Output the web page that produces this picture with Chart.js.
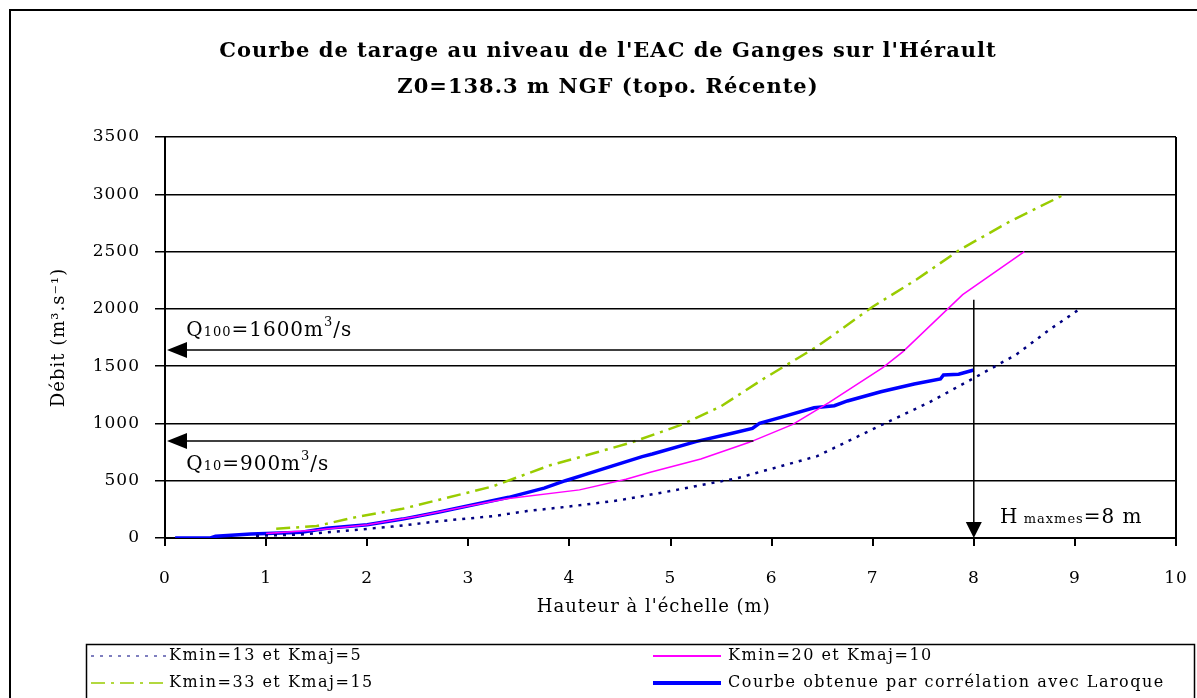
<!DOCTYPE html>
<html lang="fr">
<head>
<meta charset="utf-8">
<title>Courbe de tarage - Ganges</title>
<script src="https://cdn.jsdelivr.net/npm/chart.js@4.4.1/dist/chart.umd.min.js"></script>
<style>
  html, body { margin: 0; padding: 0; background: #fff; }
  #wrap { width: 1197px; height: 698px; position: relative; }
</style>
</head>
<body>
<div id="wrap"><canvas id="tarage-chart"></canvas></div>
<script>
// valeurs (hauteur en m, debit en m3/s)
const hauteurK13 = [0.9, 1.33, 1.76, 2.25, 2.75, 3.24, 3.58, 4.0, 4.5, 5.0, 5.66, 6.45, 7.1, 7.56, 8.03, 8.42, 8.75, 9.05];
const debitK13 = [20, 30, 60, 100, 150, 190, 235, 275, 330, 410, 522, 714, 992, 1184, 1410, 1601, 1819, 2000];

const hauteurK20 = [1.0, 1.5, 2.0, 2.5, 3.0, 3.38, 4.1, 4.56, 4.8, 5.3, 5.78, 6.21, 6.57, 7.1, 7.3, 7.89, 8.5];
const debitK20 = [40, 70, 115, 190, 280, 343, 420, 512, 574, 690, 835, 992, 1184, 1488, 1627, 2124, 2500];

const hauteurK33 = [1.1, 1.5, 1.93, 2.35, 3.24, 3.81, 4.1, 4.6, 5.12, 5.5, 5.91, 6.45, 7.0, 7.43, 7.86, 8.35, 8.9];
const debitK33 = [80, 105, 190, 255, 450, 635, 705, 830, 992, 1150, 1384, 1671, 2019, 2254, 2515, 2759, 3000];

const hauteurLaroque = [0.1, 0.45, 0.5, 0.85, 1.0, 1.35, 1.6, 2.0, 2.35, 2.7, 3.05, 3.4, 3.75, 3.96, 4.16, 4.42, 4.72, 4.82, 5.25, 5.61, 5.81, 5.88, 6.09, 6.42, 6.62, 6.75, 7.08, 7.41, 7.67, 7.7, 7.85, 8.0];
const debitLaroque = [0, 0, 15, 35, 40, 50, 85, 115, 165, 225, 290, 355, 435, 500, 555, 628, 710, 733, 841, 914, 957, 1001, 1053, 1137, 1155, 1196, 1277, 1344, 1388, 1423, 1430, 1466];

const serieLabels = ['Kmin=13 et Kmaj=5', 'Kmin=20 et Kmaj=10', 'Kmin=33 et Kmaj=15', 'Courbe obtenue par corrélation avec Laroque'];
const xTicks = [0, 1, 2, 3, 4, 5, 6, 7, 8, 9, 10];
const yTicks = [0, 500, 1000, 1500, 2000, 2500, 3000, 3500];

// fleches de l'annotation (en unites des axes)
const q100Arrow = { debit: 1640, hauteurFin: 7.32 };
const q10Arrow = { debit: 847, hauteurFin: 5.82 };
const hmaxArrow = { hauteur: 8, debitHaut: 2080 };

const SERIF = "'DejaVu Serif', serif";

function toPoints(xs, ys) {
  return xs.map((x, i) => ({ x: x, y: ys[i] }));
}

function drawRichText(ctx, x, y, parts) {
  // parts: [text, size, dy]
  let cx = x;
  parts.forEach(function (p) {
    ctx.font = p[1] + 'px ' + SERIF;
    ctx.fillText(p[0], cx, y + (p[2] || 0));
    cx += ctx.measureText(p[0]).width;
  });
}

function drawAnnotations(chart) {
  const ctx = chart.ctx;
  const xs = chart.scales.x;
  const ys = chart.scales.y;
  ctx.save();
  ctx.strokeStyle = '#000';
  ctx.fillStyle = '#000';
  ctx.lineWidth = 1.5;

  [q100Arrow, q10Arrow].forEach(function (a) {
    const y = ys.getPixelForValue(a.debit);
    const x0 = xs.getPixelForValue(0) + 2;
    const x1 = xs.getPixelForValue(a.hauteurFin);
    ctx.beginPath();
    ctx.moveTo(x0 + 16, y);
    ctx.lineTo(x1, y);
    ctx.stroke();
    ctx.beginPath();
    ctx.moveTo(x0, y);
    ctx.lineTo(x0 + 20, y - 8);
    ctx.lineTo(x0 + 20, y + 8);
    ctx.closePath();
    ctx.fill();
  });

  const hx = xs.getPixelForValue(hmaxArrow.hauteur);
  const hy0 = ys.getPixelForValue(hmaxArrow.debitHaut);
  const hy1 = ys.getPixelForValue(0);
  ctx.beginPath();
  ctx.moveTo(hx, hy0);
  ctx.lineTo(hx, hy1 - 14);
  ctx.stroke();
  ctx.beginPath();
  ctx.moveTo(hx, hy1);
  ctx.lineTo(hx - 8, hy1 - 16);
  ctx.lineTo(hx + 8, hy1 - 16);
  ctx.closePath();
  ctx.fill();

  ctx.textBaseline = 'alphabetic';
  ctx.textAlign = 'left';
  drawRichText(ctx, xs.getPixelForValue(0.21), ys.getPixelForValue(1760),
    [['Q', 20], ['100', 13], ['=1600m', 20], ['3', 13, -10], ['/s', 20]]);
  drawRichText(ctx, xs.getPixelForValue(0.21), ys.getPixelForValue(594),
    [['Q', 20], ['10', 13], ['=900m', 20], ['3', 13, -10], ['/s', 20]]);
  drawRichText(ctx, xs.getPixelForValue(8.26), ys.getPixelForValue(131),
    [['H', 20], [' maxmes', 13], ['=8 m', 20]]);
  ctx.restore();
}

function drawLegend(chart) {
  const ctx = chart.ctx;
  const slots = [[91, 166, 169, 656], [653, 721, 728, 656], [91, 166, 169, 683], [653, 721, 728, 683]];
  ctx.save();
  ctx.strokeStyle = '#000';
  ctx.lineWidth = 1.5;
  ctx.strokeRect(86.5, 644.5, 1108, 70);
  ctx.font = '16px ' + SERIF;
  ctx.letterSpacing = '1.5px';
  ctx.textBaseline = 'middle';
  ctx.fillStyle = '#000';
  chart.data.datasets.forEach(function (ds, i) {
    const s = slots[i];
    ctx.save();
    ctx.strokeStyle = ds.borderColor;
    ctx.lineWidth = ds.legendWidth;
    ctx.setLineDash(ds.borderDash || []);
    ctx.beginPath();
    ctx.moveTo(s[0], s[3]);
    ctx.lineTo(s[1], s[3]);
    ctx.stroke();
    ctx.restore();
    ctx.fillText(ds.label, s[2], s[3]);
  });
  ctx.restore();
}

const framePlugin = {
  id: 'frame',
  beforeDraw(chart) {
    const ctx = chart.ctx;
    ctx.save();
    ctx.fillStyle = '#fff';
    ctx.fillRect(0, 0, chart.width, chart.height);
    ctx.restore();
    ctx.letterSpacing = '1px';
  },
  afterDraw(chart) {
    const ctx = chart.ctx;
    const area = chart.chartArea;
    ctx.save();
    ctx.strokeStyle = '#000';
    ctx.lineWidth = 2;
    ctx.strokeRect(10, 10, 1300, 800);
    ctx.beginPath();
    ctx.moveTo(area.right, area.top);
    ctx.lineTo(area.right, area.bottom);
    ctx.stroke();
    ctx.restore();
    drawAnnotations(chart);
    drawLegend(chart);
  }
};

function initChart() {
  const ctx = document.getElementById('tarage-chart');
  new Chart(ctx, {
    type: 'line',
    data: {
      datasets: [
        {
          label: serieLabels[0],
          data: toPoints(hauteurK13, debitK13),
          borderColor: '#000080',
          borderWidth: 2.5,
          borderDash: [3, 6],
          legendWidth: 1.2
        },
        {
          label: serieLabels[1],
          data: toPoints(hauteurK20, debitK20),
          borderColor: '#ff00ff',
          borderWidth: 1.5,
          legendWidth: 2
        },
        {
          label: serieLabels[2],
          data: toPoints(hauteurK33, debitK33),
          borderColor: '#99cc00',
          borderWidth: 2.5,
          borderDash: [14, 6, 3, 6],
          legendWidth: 1.5
        },
        {
          label: serieLabels[3],
          data: toPoints(hauteurLaroque, debitLaroque),
          borderColor: '#0000ff',
          borderWidth: 3.5,
          legendWidth: 4
        }
      ]
    },
    options: {
      responsive: true,
      maintainAspectRatio: false,
      devicePixelRatio: 1,
      animation: false,
      elements: {
        point: { radius: 0 },
        line: { tension: 0, fill: false }
      },
      layout: { padding: { top: 10, left: 40, right: 21, bottom: 60 } },
      scales: {
        x: {
          type: 'linear',
          min: 0,
          max: 10,
          afterBuildTicks: (scale) => { scale.ticks = xTicks.map(v => ({ value: v })); },
          afterFit: (scale) => {
            scale.height = 100;
            scale.paddingLeft = 0;
            scale.paddingRight = 0;
          },
          border: { color: '#000', width: 2 },
          grid: { drawOnChartArea: false, drawTicks: true, tickLength: 8, color: '#000', lineWidth: 2 },
          ticks: { color: '#000', padding: 22, font: { family: SERIF, size: 17 }, callback: (v) => String(v) },
          title: {
            display: true,
            text: "Hauteur à l'échelle (m)     ",
            color: '#000',
            font: { family: SERIF, size: 18 },
            padding: { top: 0, bottom: 20 }
          }
        },
        y: {
          min: 0,
          max: 3500,
          afterBuildTicks: (scale) => { scale.ticks = yTicks.map(v => ({ value: v })); },
          afterFit: (scale) => { scale.width = 125; },
          border: { color: '#000', width: 2 },
          grid: { drawOnChartArea: true, drawTicks: true, tickLength: 10, color: '#000', lineWidth: 1.5 },
          ticks: { color: '#000', padding: 15, font: { family: SERIF, size: 17 }, callback: (v) => String(v) },
          title: {
            display: true,
            text: 'Débit (m³.s⁻¹)',
            color: '#000',
            font: { family: SERIF, size: 18 },
            padding: { top: 9, bottom: 0 }
          }
        }
      },
      plugins: {
        legend: { display: false },
        tooltip: { enabled: false },
        title: {
          display: true,
          text: ["Courbe de tarage au niveau de l'EAC de Ganges sur l'Hérault", 'Z0=138.3 m NGF (topo. Récente)'],
          color: '#000',
          font: { family: SERIF, size: 21, weight: 'bold', lineHeight: '36px' },
          padding: { top: 24, bottom: 31 }
        }
      }
    },
    plugins: [framePlugin]
  });
}

initChart();
</script>
</body>
</html>
